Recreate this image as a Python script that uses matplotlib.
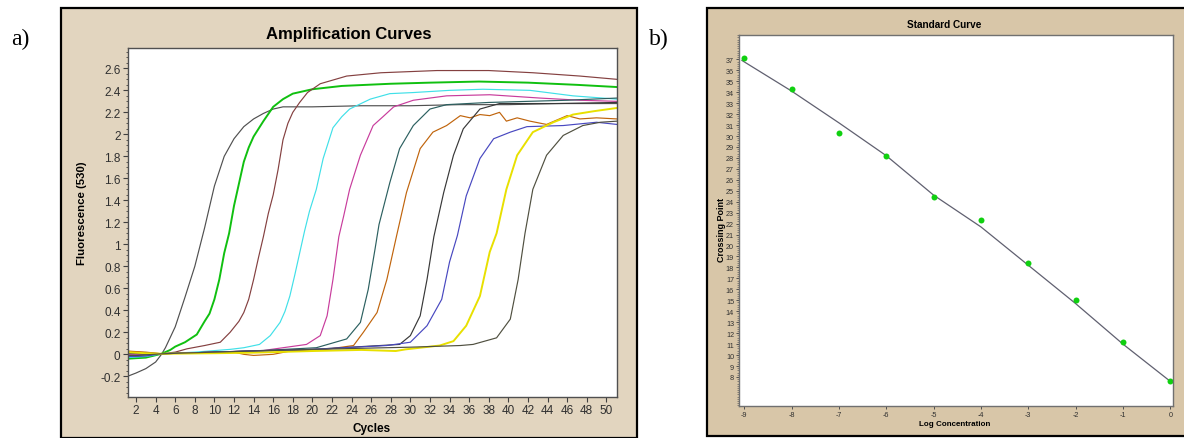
import matplotlib
matplotlib.use('Agg')
import matplotlib.pyplot as plt
from matplotlib import ticker
from matplotlib.patches import Rectangle
import numpy as np

plt.rcParams['font.family'] = ['Liberation Sans', 'DejaVu Sans']
plt.rcParams['axes.unicode_minus'] = False

# ---- amplification curves (cycle, fluorescence) ----
gray_cyc = [1.13, 2, 3, 4, 4.6, 5, 6, 7, 8, 9, 10, 11, 12, 13, 14, 15, 16, 17, 20, 25, 30, 35, 40, 45, 51.1]
gray_fl = [-0.20, -0.17, -0.13, -0.07, 0.0, 0.06, 0.25, 0.52, 0.80, 1.15, 1.53, 1.80, 1.96, 2.07, 2.14, 2.19, 2.23, 2.25,
           2.25, 2.26, 2.26, 2.27, 2.27, 2.28, 2.28]

green_cyc = [1.13, 2, 3, 4.6, 5.5, 6, 7, 8.2, 9, 9.5, 10, 10.5, 11, 11.5, 12, 12.5, 13, 13.5, 14, 15, 16, 17, 18, 20,
             23, 28, 32, 37, 42, 47, 51.1]
green_fl = [-0.04, -0.035, -0.03, 0.005, 0.04, 0.07, 0.11, 0.18, 0.30, 0.37, 0.50, 0.68, 0.92, 1.10, 1.35, 1.55, 1.75,
            1.88, 1.98, 2.12, 2.25, 2.32, 2.37, 2.41, 2.44, 2.46, 2.47, 2.48, 2.47, 2.45, 2.43]

brown_cyc = [1.13, 2, 3, 4.6, 6, 7.2, 9, 10.6, 11.6, 12.5, 13, 13.5, 14, 14.5, 15, 15.5, 16, 16.5, 17, 17.5, 18, 18.7,
             19.5, 20.8, 23.5, 27, 32.7, 38, 42.5, 47.3, 51.1]
brown_fl = [0.02, 0.02, 0.015, 0.005, 0.02, 0.05, 0.08, 0.11, 0.20, 0.30, 0.38, 0.50, 0.68, 0.88, 1.07, 1.28, 1.45,
            1.68, 1.95, 2.10, 2.20, 2.29, 2.38, 2.46, 2.53, 2.56, 2.58, 2.58, 2.56, 2.53, 2.50]

cyan_cyc = [1.13, 2, 3, 4.6, 8, 11.6, 13, 14.6, 15.7, 16.7, 17.2, 17.7, 18.2, 18.7, 19.2, 19.7, 20.4, 21.1, 22.1, 23,
            23.8, 25.9, 27.9, 30.3, 34, 37.4, 42.2, 46.6, 51.1]
cyan_fl = [-0.03, -0.025, -0.02, 0.005, 0.02, 0.045, 0.06, 0.09, 0.17, 0.29, 0.39, 0.53, 0.72, 0.92, 1.12, 1.30, 1.50,
           1.78, 2.06, 2.16, 2.23, 2.32, 2.37, 2.38, 2.40, 2.41, 2.40, 2.35, 2.32]

magenta_cyc = [1.13, 2, 3, 4.6, 10, 15, 19.4, 20.8, 21.5, 22.1, 22.7, 23.2, 23.8, 24.9, 26.2, 27.2, 28.3, 30.3, 33.7,
               38.1, 43.2, 47.3, 51.1]
magenta_fl = [0.0, 0.0, 0.0, 0.005, 0.02, 0.035, 0.09, 0.17, 0.35, 0.68, 1.07, 1.26, 1.50, 1.81, 2.08, 2.16, 2.25, 2.31,
              2.35, 2.36, 2.33, 2.31, 2.30]

teal_cyc = [1.13, 2, 3, 4.6, 10, 15, 20.4, 23.5, 24.9, 25.7, 26.4, 26.8, 27.9, 28.9, 30.3, 32, 33.7, 38, 42, 46, 51.1]
teal_fl = [-0.01, -0.01, -0.005, 0.005, 0.02, 0.035, 0.06, 0.14, 0.29, 0.59, 0.96, 1.18, 1.56, 1.87, 2.08, 2.23, 2.27,
           2.29, 2.30, 2.31, 2.33]

orange_cyc = [1.13, 2, 3, 4.6, 8, 12, 13, 14, 16, 18, 21, 24.2, 25.2, 26.6, 27.6, 28.6, 29.6, 31.0, 32.3, 33.7, 35.1,
              36.1, 37.1, 38.1, 39.1, 39.8, 40.9, 42.2, 43.9, 46.0, 47.3, 49.0, 51.1]
orange_fl = [0.03, 0.025, 0.02, 0.005, 0.015, 0.02, 0.0, -0.01, 0.0, 0.035, 0.04, 0.08, 0.20, 0.38, 0.68, 1.08, 1.47,
             1.87, 2.02, 2.08, 2.17, 2.15, 2.18, 2.17, 2.20, 2.12, 2.15, 2.12, 2.09, 2.17, 2.14, 2.15, 2.14]

dark_cyc = [1.13, 2, 3, 4.6, 10, 20, 28.9, 30.0, 31.0, 31.7, 32.4, 33.4, 34.4, 35.4, 37.1, 39.1, 45, 51.1]
dark_fl = [0.01, 0.01, 0.01, 0.005, 0.02, 0.045, 0.09, 0.17, 0.35, 0.68, 1.07, 1.47, 1.81, 2.05, 2.23, 2.28, 2.28, 2.29]

blue_cyc = [1.13, 2, 3, 4.6, 10, 20, 27.6, 30.0, 31.7, 33.2, 34.0, 34.8, 35.7, 37.1, 38.5, 40.2, 41.9, 45.6, 49.0, 51.1]
blue_fl = [-0.02, -0.02, -0.015, 0.005, 0.02, 0.045, 0.08, 0.11, 0.26, 0.50, 0.84, 1.08, 1.44, 1.78, 1.96, 2.02, 2.07,
           2.08, 2.11, 2.09]

yellow_cyc = [1.13, 2, 3, 4.6, 10, 14, 20, 25, 28.5, 29.5, 33.0, 34.4, 35.7, 37.1, 38.1, 38.8, 39.8, 40.9, 42.5, 44.6,
              46.6, 48.7, 51.1]
yellow_fl = [0.02, 0.015, 0.01, 0.005, 0.01, 0.015, 0.03, 0.04, 0.03, 0.045, 0.08, 0.12, 0.26, 0.53, 0.93, 1.10, 1.50,
             1.81, 2.02, 2.11, 2.18, 2.21, 2.24]

olive_cyc = [1.13, 2, 3, 4.6, 10, 20, 30, 35.1, 36.4, 38.8, 40.2, 41.0, 41.7, 42.5, 43.9, 45.6, 47.6, 49.4, 51.1]
olive_fl = [-0.01, -0.01, -0.005, 0.005, 0.02, 0.045, 0.065, 0.08, 0.09, 0.15, 0.32, 0.68, 1.10, 1.50, 1.81, 1.99, 2.08,
            2.11, 2.12]

curve_colors = ['#505050', '#10c010', '#844040', '#40e0e8', '#c83c9c', '#2c6060',
                '#c0640c', '#383838', '#4848c0', '#e8e000', '#505040']

# ---- standard curve ----
log_conc = [-9, -8, -7, -6, -5, -4, -3, -2, -1, 0]
crossing_pt = [37.1, 34.3, 30.3, 28.2, 24.4, 22.3, 18.4, 15.0, 11.2, 7.6]
fit_x = [-9.05, -8, -7, -6, -5, -4, -3, -2, -1, 0]
fit_y = [36.9, 34.1, 31.2, 28.2, 24.6, 21.7, 18.2, 14.7, 11.0, 7.6]

W, H = 1184, 439
fig = plt.figure(figsize=(W / 100, H / 100), dpi=100)
fig.patch.set_facecolor('white')


def fx(px):
    return px / W


def fy(py):
    return 1 - py / H


# tan panels
fig.patches.append(Rectangle((fx(61), fy(438.5)), fx(637) - fx(61), fy(8.5) - fy(438.5), transform=fig.transFigure,
                             facecolor='#e2d5bf', edgecolor='black', linewidth=1.6, zorder=-5))
fig.patches.append(Rectangle((fx(707), fy(436.5)), fx(1192) - fx(707), fy(8.5) - fy(436.5), transform=fig.transFigure,
                             facecolor='#d8c6a8', edgecolor='black', linewidth=1.6, zorder=-5))

fig.text(fx(11), fy(39), 'a)', family='Liberation Serif', fontsize=17, va='center', ha='left')
fig.text(fx(649), fy(39), 'b)', family='Liberation Serif', fontsize=17, va='center', ha='left')

# ---------- a) amplification curves ----------
ax = fig.add_axes([fx(127.5), fy(398), fx(617) - fx(127.5), fy(49) - fy(398)])
ax.set_zorder(2)
ax.set_facecolor('white')
curves = [(gray_cyc, gray_fl), (green_cyc, green_fl), (brown_cyc, brown_fl), (cyan_cyc, cyan_fl),
          (magenta_cyc, magenta_fl), (teal_cyc, teal_fl), (orange_cyc, orange_fl), (dark_cyc, dark_fl),
          (blue_cyc, blue_fl), (yellow_cyc, yellow_fl), (olive_cyc, olive_fl)]
for (cx, cy), col in zip(curves, curve_colors):
    lw = 1.4 if col in ('#10c010', '#e8e000') else 0.85
    ax.plot(cx, cy, color=col, lw=lw, solid_joinstyle='round')

ax.set_xlim(1.13, 51.09)
ax.set_ylim(-0.388, 2.785)
ax.set_xticks(np.arange(2, 51, 2))
ax.set_yticks(np.round(np.arange(-0.2, 2.61, 0.2), 1))
ax.yaxis.set_minor_locator(ticker.MultipleLocator(0.05))
ax.yaxis.set_major_formatter(ticker.FuncFormatter(lambda v, p: f'{round(v, 1):g}'))
ax.tick_params(axis='both', which='major', direction='out', length=3.5, width=0.8, labelsize=8.5,
               colors='#404040', labelcolor='#303030', pad=1.5)
ax.tick_params(axis='y', which='minor', direction='out', length=1.6, width=0.6, colors='#404040')
for s in ax.spines.values():
    s.set_color('#505050')
    s.set_linewidth(1.0)

fig.text(fx(349), fy(34), 'Amplification Curves', fontsize=12, fontweight='bold', ha='center', va='center')
fig.text(fx(82), fy(213), 'Fluorescence (530)', fontsize=8.2, fontweight='bold', rotation=90,
         ha='center', va='center')
fig.text(fx(372), fy(429), 'Cycles', fontsize=8.5, fontweight='bold', ha='center', va='center')

# ---------- b) standard curve ----------
bx = fig.add_axes([fx(739), fy(407), fx(1173) - fx(739), fy(35.7) - fy(407)])
bx.set_zorder(2)
bx.set_facecolor('white')
bx.plot(fit_x, fit_y, color='#606070', lw=0.9)
bx.plot(log_conc, crossing_pt, 'o', color='#10d010', markersize=4.3, markeredgewidth=0)
bx.set_xlim(-9.112, 0.057)
bx.set_ylim(5.35, 39.25)
bx.set_xticks(log_conc)
bx.set_yticks(np.arange(8, 38, 1))
bx.yaxis.set_minor_locator(ticker.MultipleLocator(0.2))
bx.tick_params(axis='both', which='major', direction='out', length=2.5, width=0.7, labelsize=5.2,
               colors='#505050', labelcolor='#303030', pad=1)
bx.tick_params(axis='y', which='minor', direction='out', length=1.2, width=0.5, colors='#606060')
for s in bx.spines.values():
    s.set_color('#707070')
    s.set_linewidth(1.0)

fig.text(fx(944), fy(25), 'Standard Curve', fontsize=7.2, fontweight='bold', ha='center', va='center')
fig.text(fx(721), fy(230), 'Crossing Point', fontsize=6.5, fontweight='bold', rotation=90, ha='center', va='center')
fig.text(fx(955), fy(424.5), 'Log Concentration', fontsize=5.8, fontweight='bold', ha='center', va='center')

fig.savefig('out.png', dpi=100, facecolor='white')
